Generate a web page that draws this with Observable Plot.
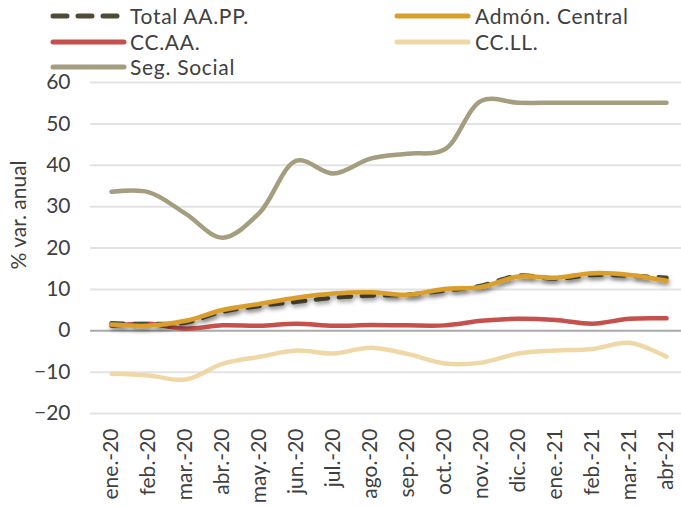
<!DOCTYPE html>
<html>
<head>
<meta charset="utf-8">
<script src="https://cdn.jsdelivr.net/npm/d3@7"></script>
<script src="https://cdn.jsdelivr.net/npm/@observablehq/plot@0.6"></script>
<style>
  html, body { margin: 0; padding: 0; background: #fff; }
  #wrap { position: relative; width: 681px; height: 506px; font-family: Lato, "DejaVu Sans", sans-serif; color: #404040; }
  #chart { position: absolute; left: 0; top: 0; }
  .leg { position: absolute; font-size: 21px; line-height: 21px; white-space: nowrap; letter-spacing: 0.7px; }
  .sw { position: absolute; }
  #ytitle { position: absolute; font-size: 21px; white-space: nowrap; transform: translate(-50%, -50%) rotate(-90deg); left: 17px; top: 215px; }
</style>
</head>
<body>
<div id="wrap">
  <div id="chart"></div>
  <div id="ytitle">% var. anual</div>
</div>
<script>
const months = ["ene.-20","feb.-20","mar.-20","abr.-20","may.-20","jun.-20","jul.-20","ago.-20","sep.-20","oct.-20","nov.-20","dic.-20","ene.-21","feb.-21","mar.-21","abr-21"];
const totalAAPP   = [1.8, 1.6, 2.0, 4.6, 6.0, 7.0, 8.0, 8.5, 8.7, 9.7, 10.9, 13.3, 12.6, 13.5, 13.3, 12.8];
const admonCentral = [1.5, 1.2, 2.4, 5.0, 6.5, 8.0, 9.0, 9.3, 8.7, 10.1, 10.6, 13.1, 12.8, 13.9, 13.5, 12.1];
const ccaa        = [1.2, 1.7, 0.5, 1.3, 1.2, 1.7, 1.2, 1.4, 1.3, 1.3, 2.4, 2.9, 2.6, 1.7, 2.9, 3.0];
const ccll        = [-10.4, -10.8, -11.8, -8.0, -6.3, -4.8, -5.5, -4.1, -5.6, -7.9, -7.7, -5.5, -4.8, -4.4, -2.9, -6.3];
const segSocial   = [33.6, 33.5, 28.3, 22.5, 28.5, 41.1, 38.0, 41.6, 42.8, 43.8, 55.6, 55.1, 55.1, 55.1, 55.1, 55.1];
const yTicks = [-20, -10, 0, 10, 20, 30, 40, 50, 60];

const seriesNames = ["Total AA.PP.", "Admón. Central", "CC.AA.", "CC.LL.", "Seg. Social"];
const seriesColors = ["#4f4b37", "#d99f2a", "#c5504c", "#efd8a6", "#a59d80"];

const toRows = (vals) => months.map((m, i) => ({month: m, value: vals[i]}));

const lineOpts = (color, extra = {}) => ({
  x: "month", y: "value", stroke: color, strokeWidth: 4.5, curve: "catmull-rom",
  strokeLinecap: "round", strokeLinejoin: "round", ...extra
});

const chart = Plot.plot({
  width: 681,
  height: 506,
  marginTop: 82,
  marginBottom: 93,
  marginLeft: 90,
  marginRight: 0,
  style: {fontFamily: "Lato, 'DejaVu Sans', sans-serif", fontSize: "21px", color: "#404040", background: "transparent"},
  x: {type: "point", domain: months, range: [108, 668], padding: 0},
  y: {domain: [-20, 60]},
  marks: [
    Plot.ruleY(yTicks, {stroke: d => d === 0 ? "#a9a9a9" : "#e3e3e3", strokeWidth: 2}),
    Plot.axisY({ticks: yTicks, tickSize: 0, tickPadding: 20, label: null, fontSize: 21}),
    Plot.axisX({tickSize: 0, tickPadding: 15, tickRotate: -90, label: null, fontSize: 21}),
    Plot.line(toRows(segSocial), lineOpts(seriesColors[4])),
    Plot.line(toRows(ccll), lineOpts(seriesColors[3])),
    Plot.line(toRows(ccaa), lineOpts(seriesColors[2])),
    Plot.line(toRows(totalAAPP), lineOpts(seriesColors[0], {strokeDasharray: "12,11", className: "shadowed"})),
    Plot.line(toRows(admonCentral), lineOpts(seriesColors[1], {className: "shadowed"}))
  ]
});

// drop shadow filter like the original
const svgNS = "http://www.w3.org/2000/svg";
const defs = document.createElementNS(svgNS, "defs");
defs.innerHTML = '<filter id="shadow" x="-10%" y="-50%" width="120%" height="200%"><feDropShadow dx="1" dy="3" stdDeviation="2" flood-color="#000" flood-opacity="0.35"/></filter>';
chart.insertBefore(defs, chart.firstChild);
chart.querySelectorAll(".shadowed path").forEach(p => p.setAttribute("filter", "url(#shadow)"));

document.getElementById("chart").appendChild(chart);

// legend
const wrap = document.getElementById("wrap");
const legendPos = [
  {x1: 53, x2: 120, y: 16, tx: 130},
  {x1: 397, x2: 468, y: 16, tx: 475},
  {x1: 53, x2: 124, y: 42, tx: 130},
  {x1: 397, x2: 468, y: 42, tx: 475},
  {x1: 53, x2: 124, y: 67, tx: 130}
];
seriesNames.forEach((name, i) => {
  const p = legendPos[i];
  const sw = document.createElementNS(svgNS, "svg");
  sw.setAttribute("class", "sw");
  sw.setAttribute("width", p.x2 - p.x1 + 10);
  sw.setAttribute("height", 12);
  sw.style.left = (p.x1 - 5) + "px";
  sw.style.top = (p.y - 6) + "px";
  const ln = document.createElementNS(svgNS, "line");
  ln.setAttribute("x1", 5); ln.setAttribute("x2", p.x2 - p.x1 + 5);
  ln.setAttribute("y1", 6); ln.setAttribute("y2", 6);
  ln.setAttribute("stroke", seriesColors[i]);
  ln.setAttribute("stroke-width", 5);
  ln.setAttribute("stroke-linecap", "round");
  if (i === 0) ln.setAttribute("stroke-dasharray", "14,11");
  sw.appendChild(ln);
  wrap.appendChild(sw);
  const t = document.createElement("div");
  t.className = "leg";
  t.textContent = name;
  t.style.left = p.tx + "px";
  t.style.top = (p.y - 11) + "px";
  wrap.appendChild(t);
});
</script>
</body>
</html>
